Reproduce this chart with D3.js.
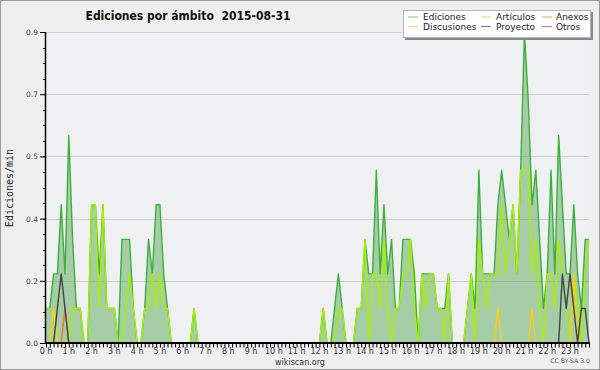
<!DOCTYPE html>
<html>
<head>
<meta charset="utf-8">
<script src="https://cdn.jsdelivr.net/npm/d3@7"></script>
<style>
  body { margin: 0; background: #efefef; }
  text { font-family: "DejaVu Sans", sans-serif; }
</style>
</head>
<body>
<svg id="chart" width="600" height="370"></svg>
<script>
/* data: edits per minute, 10 minute bins (144 per day), 12 values per row = 2 hours */
var ediciones = [
  0.1,0.1,0.2,0.2,0.4,0.2,0.6,0.3,0.1,0.1,0,0,
  0.4,0.4,0.2,0.4,0.1,0.1,0.1,0,0.3,0.3,0.3,0.1,
  0,0,0.1,0.3,0.2,0.4,0.4,0.2,0.1,0,0,0,
  0,0,0,0.1,0,0,0,0,0,0,0,0,
  0,0,0,0,0,0,0,0,0,0,0,0,
  0,0,0,0,0,0,0,0,0,0,0,0,
  0,0.1,0,0,0.1,0.2,0.1,0,0,0,0.1,0.1,
  0.3,0.2,0.2,0.5,0.2,0.4,0.2,0.3,0.1,0.1,0.3,0.3,
  0.3,0.2,0,0.2,0.2,0.2,0.2,0.1,0.1,0.1,0.2,0,
  0,0,0,0.1,0.2,0.1,0.5,0.2,0.2,0.2,0.2,0.4,
  0.5,0.4,0.3,0.4,0.2,0.5,0.9,0.7,0.4,0.5,0.3,0.1,
  0.2,0.5,0.2,0.6,0.4,0.2,0.2,0.4,0.2,0.1,0.3,0.3
];
var articulos = [
  0.1,0.1,0.1,0,0,0,0,0.1,0.1,0.1,0,0,
  0.4,0.4,0.1,0.4,0.1,0.1,0.1,0,0,0.1,0.2,0.1,
  0,0,0.1,0.1,0.2,0.1,0.2,0.1,0.1,0,0,0,
  0,0,0,0.1,0,0,0,0,0,0,0,0,
  0,0,0,0,0,0,0,0,0,0,0,0,
  0,0,0,0,0,0,0,0,0,0,0,0,
  0,0.1,0,0,0,0.1,0.1,0,0,0,0.1,0.1,
  0.3,0,0.2,0.2,0.1,0.3,0.1,0,0.1,0.1,0.2,0.2,
  0.3,0.1,0,0.2,0.1,0.2,0.2,0.1,0.1,0,0.2,0,
  0,0,0,0.1,0.2,0,0.3,0.2,0.1,0.2,0.2,0.2,
  0.4,0.2,0.3,0.4,0.2,0.5,0.5,0.5,0.2,0.3,0.1,0,
  0.2,0.2,0.1,0.3,0.2,0.1,0,0.2,0.1,0,0.2,0.3
];
var anexos = [
  0,0,0,0,0,0.1,0,0,0,0,0,0,
  0,0,0,0,0,0,0,0,0,0,0,0,
  0,0,0,0,0,0,0,0,0,0,0,0,
  0,0,0,0,0,0,0,0,0,0,0,0,
  0,0,0,0,0,0,0,0,0,0,0,0,
  0,0,0,0,0,0,0,0,0,0,0,0,
  0,0,0,0,0,0,0,0,0,0,0,0,
  0,0,0,0,0,0,0,0,0,0,0,0,
  0,0,0,0,0,0,0,0,0,0,0,0,
  0,0,0,0,0,0,0,0,0,0,0,0,
  0,0,0,0,0,0,0,0,0,0,0,0,
  0,0,0,0,0,0,0,0,0,0,0,0
];
var discusiones = [
  0,0,0.1,0,0,0,0,0,0,0,0,0,
  0,0,0,0,0,0,0,0,0,0,0,0,
  0,0,0,0,0,0,0,0,0,0,0,0,
  0,0,0,0,0,0,0,0,0,0,0,0,
  0,0,0,0,0,0,0,0,0,0,0,0,
  0,0,0,0,0,0,0,0,0,0,0,0,
  0,0,0,0,0,0,0,0,0,0,0,0,
  0,0,0,0,0,0,0,0,0,0,0,0,
  0,0,0,0,0,0,0,0,0,0,0,0,
  0,0,0,0,0,0,0,0,0,0,0,0.1,
  0,0,0,0,0,0,0,0,0.1,0,0,0,
  0,0,0,0,0,0,0,0.2,0,0,0,0
];
var proyecto = [
  0,0,0,0.1,0.2,0.1,0,0,0,0,0,0,
  0,0,0,0,0,0,0,0,0,0,0,0,
  0,0,0,0,0,0,0,0,0,0,0,0,
  0,0,0,0,0,0,0,0,0,0,0,0,
  0,0,0,0,0,0,0,0,0,0,0,0,
  0,0,0,0,0,0,0,0,0,0,0,0,
  0,0,0,0,0,0,0,0,0,0,0,0,
  0,0,0,0,0,0,0,0,0,0,0,0,
  0,0,0,0,0,0,0,0,0,0,0,0,
  0,0,0,0,0,0,0,0,0,0,0,0,
  0,0,0,0,0,0,0,0,0,0,0,0,
  0,0,0,0,0.2,0.1,0.2,0.1,0,0.1,0.1,0
];
var otros = [
  0,0,0,0,0,0,0,0,0,0,0,0,
  0,0,0,0,0,0,0,0,0,0,0,0,
  0,0,0,0,0,0,0,0,0,0,0,0,
  0,0,0,0,0,0,0,0,0,0,0,0,
  0,0,0,0,0,0,0,0,0,0,0,0,
  0,0,0,0,0,0,0,0,0,0,0,0,
  0,0,0,0,0,0,0,0,0,0,0,0,
  0,0,0,0,0,0,0,0,0,0,0,0,
  0,0,0,0,0,0,0,0,0,0,0,0,
  0,0,0,0,0,0,0,0,0,0,0,0,
  0,0,0,0,0,0,0,0,0,0,0,0,
  0,0,0,0,0,0,0,0,0,0,0,0
];
var hourLabels = ["0 h","1 h","2 h","3 h","4 h","5 h","6 h","7 h","8 h","9 h","10 h","11 h",
                  "12 h","13 h","14 h","15 h","16 h","17 h","18 h","19 h","20 h","21 h","22 h","23 h"];
var yTicks = [0, 0.18, 0.36, 0.54, 0.72, 0.9];

// legend order (row by row, 3 columns)
var series = [
  { name: "Ediciones",   values: ediciones,   color: "#3daf3d" },
  { name: "Artículos",   values: articulos,   color: "#aaee00" },
  { name: "Anexos",      values: anexos,      color: "#ff6a2a" },
  { name: "Discusiones", values: discusiones, color: "#ffcc11" },
  { name: "Proyecto",    values: proyecto,    color: "#444444" },
  { name: "Otros",       values: otros,       color: "#9933ff" }
];

/* layout (plot box) */
var plotL = 46, plotR = 589, plotT = 32, plotB = 343;
var svg = d3.select("#chart");

var x = d3.scaleLinear().domain([0, ediciones.length - 1]).range([plotL, plotR]);
var y = d3.scaleLinear().domain([0, 0.9]).range([plotB, plotT]);

// background + frame
svg.append("rect").attr("x", 0.5).attr("y", 0.5).attr("width", 599).attr("height", 369)
  .attr("fill", "#efefef").attr("stroke", "#9a9a9a");
svg.append("rect").attr("x", plotL).attr("y", plotT).attr("width", plotR - plotL).attr("height", plotB - plotT)
  .attr("fill", "#eff0f2");

// grid
svg.selectAll(".grid").data(yTicks.slice(1)).enter()
  .append("line")
    .attr("x1", plotL).attr("x2", plotR)
    .attr("y1", function (d) { return Math.round(y(d)) + 0.5; })
    .attr("y2", function (d) { return Math.round(y(d)) + 0.5; })
    .attr("stroke", "#cfcfcf");

// area under the total
var area = d3.area()
  .x(function (d, i) { return x(i); })
  .y0(y(0))
  .y1(function (d) { return y(d); });
svg.append("path").datum(ediciones)
  .attr("d", area)
  .attr("fill", "#3d9f3d").attr("fill-opacity", 0.42);

var line = d3.line()
  .x(function (d, i) { return x(i); })
  .y(function (d) { return y(d); });

// draw total first, then the namespaces on top
svg.selectAll(".serie").data(series).enter()
  .append("path")
    .attr("d", function (d) { return line(d.values); })
    .attr("fill", "none")
    .attr("stroke", function (d) { return d.color; })
    .attr("stroke-width", 1.4)
    .attr("stroke-linejoin", "round");

/* axes */
var yAxis = d3.axisLeft(y).tickValues(yTicks).tickSize(6)
  .tickFormat(function (d) { return d.toFixed(1); });
var gy = svg.append("g").attr("transform", "translate(" + plotL + ",0)").call(yAxis);
gy.select(".domain").remove();
gy.selectAll("text").attr("font-size", 7.5).attr("fill", "#444").attr("dx", "1");

var minor = d3.range(0, 0.9001, 0.045);
svg.selectAll(".ymin").data(minor).enter()
  .append("line")
    .attr("x1", plotL - 3).attr("x2", plotL)
    .attr("y1", function (d) { return Math.round(y(d)) + 0.5; })
    .attr("y2", function (d) { return Math.round(y(d)) + 0.5; })
    .attr("stroke", "#000");

var xAxis = d3.axisBottom(x).tickValues(d3.range(0, 144)).tickSize(4).tickFormat("");
var gx = svg.append("g").attr("transform", "translate(0," + (plotB + 0.5) + ")").call(xAxis);
gx.select(".domain").remove();

svg.selectAll(".hlab").data(hourLabels).enter()
  .append("text")
    .attr("x", function (d, i) { return x(i * 6); })
    .attr("y", 354)
    .attr("text-anchor", "middle")
    .attr("font-size", 8)
    .attr("fill", "#333")
    .text(function (d) { return d; });

// axis lines drawn last so they cover the zero segments of the series
svg.append("line").attr("x1", plotL - 1).attr("x2", plotR + 1)
  .attr("y1", plotB).attr("y2", plotB).attr("stroke", "#000").attr("stroke-width", 2.2);
svg.append("line").attr("x1", plotL - 0.5).attr("x2", plotL - 0.5)
  .attr("y1", plotT).attr("y2", plotB + 1).attr("stroke", "#000").attr("stroke-width", 1.5);

/* texts */
svg.append("text")
  .attr("x", 188).attr("y", 20)
  .attr("text-anchor", "middle")
  .attr("font-size", 13).attr("font-weight", "bold")
  .attr("fill", "#111")
  .style("white-space", "pre")
  .attr("textLength", 205).attr("lengthAdjust", "spacingAndGlyphs")
  .text("Ediciones por ámbito  2015-08-31");

svg.append("text")
  .attr("transform", "translate(13,188) rotate(-90)")
  .attr("text-anchor", "middle")
  .style("font-family", "'DejaVu Sans Mono', monospace")
  .attr("font-size", 10)
  .attr("fill", "#222")
  .text("Ediciones/min");

svg.append("text")
  .attr("x", 300).attr("y", 365)
  .attr("text-anchor", "middle")
  .attr("font-size", 8).attr("fill", "#333")
  .text("wikiscan.org");

svg.append("text")
  .attr("x", 590).attr("y", 363)
  .attr("text-anchor", "end")
  .attr("font-size", 6.2).attr("fill", "#555")
  .text("CC BY-SA 3.0");

/* legend */
var legend = svg.append("g");
legend.append("rect").attr("x", 405).attr("y", 12).attr("width", 188).attr("height", 28).attr("fill", "#8a8a8a");
legend.append("rect").attr("x", 403.5).attr("y", 10.5).attr("width", 187).attr("height", 27)
  .attr("fill", "#fefefe").attr("stroke", "#b5b5b5");

var colX = [408, 481, 542];
var rowY = [20, 29.5];
var items = legend.selectAll(".item").data(series).enter()
  .append("g")
    .attr("transform", function (d, i) { return "translate(" + colX[i % 3] + "," + rowY[Math.floor(i / 3)] + ")"; });
items.append("line")
  .attr("x1", 0).attr("x2", 10).attr("y1", -3).attr("y2", -3)
  .attr("stroke", function (d) { return d.color; }).attr("stroke-opacity", 0.7);
items.append("text")
  .attr("x", function (d, i) { return i % 3 === 2 ? 14 : 15; })
  .attr("y", 0)
  .attr("font-size", 9).attr("fill", "#222")
  .text(function (d) { return d.name; });
</script>
</body>
</html>
